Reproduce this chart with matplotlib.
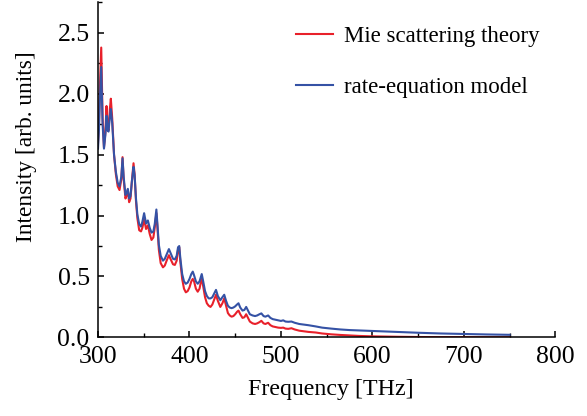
import numpy as np
import matplotlib
matplotlib.use("Agg")
import matplotlib.pyplot as plt
from matplotlib.ticker import MultipleLocator

plt.rcParams['font.family'] = ['Liberation Serif', 'DejaVu Serif']
plt.rcParams['mathtext.fontset'] = 'stix'

# Frequência (THz) e intensidades
freq = [300, 301, 302, 303.5, 305, 306.5, 308, 309.3, 310.5, 311.5, 313, 314, 315.5,
        317.5, 319.5, 321.5, 323.5, 325.5, 326.8, 328, 330, 331.5, 332.6, 334, 335.5,
        337, 338.8, 340, 341.5, 343, 345, 347, 348.5, 350.4, 352.5, 354.5, 356.5,
        358.5, 360.5, 362, 363.8, 365, 366.5, 368.5, 371, 373, 375, 377.5, 379.5,
        382, 384, 386, 387.5, 388.8, 390, 392, 394, 396, 398, 400, 402, 403.6, 405,
        407, 409, 411, 413.4, 415, 417, 419, 421, 423, 425, 427, 429, 431, 433.7,
        436, 438, 440, 442, 444, 446, 448, 450, 452, 453.6, 455.5, 458, 460, 462,
        464, 466, 469, 471.7, 474, 476.5, 478.6, 481, 483, 486, 488.5, 491, 494,
        497, 500, 502.5, 505, 508, 511.5, 515, 520, 525, 530, 538, 545, 555, 565,
        575, 585, 597, 610, 627, 650, 675, 700, 725, 750]

mie = [1.60, 1.75, 2.05, 2.38, 1.80, 1.56, 1.68, 1.90, 1.72, 1.70, 1.88, 1.96, 1.80,
       1.50, 1.34, 1.24, 1.21, 1.30, 1.48, 1.30, 1.14, 1.17, 1.21, 1.11, 1.14,
       1.28, 1.43, 1.34, 1.12, 0.98, 0.88, 0.87, 0.90, 0.97, 0.89, 0.92, 0.85,
       0.80, 0.82, 0.90, 1.02, 0.90, 0.72, 0.61, 0.575, 0.59, 0.63, 0.675, 0.64,
       0.60, 0.595, 0.63, 0.72, 0.74, 0.62, 0.48, 0.40, 0.37, 0.38, 0.41, 0.46, 0.48, 0.46,
       0.40, 0.375, 0.40, 0.49, 0.42, 0.33, 0.28, 0.26, 0.25, 0.27, 0.31, 0.35, 0.30, 0.25,
       0.28, 0.32, 0.26, 0.20, 0.18, 0.17, 0.175, 0.19, 0.21, 0.22, 0.19, 0.16, 0.165, 0.19,
       0.16, 0.13, 0.115, 0.11, 0.115, 0.125, 0.136, 0.115, 0.11, 0.12, 0.10, 0.09, 0.085,
       0.08, 0.078, 0.08, 0.072, 0.07, 0.075, 0.065, 0.055, 0.05, 0.045, 0.04, 0.032, 0.025, 0.02,
       0.016, 0.012, 0.009, 0.007, 0.005, 0.003, 0.002, 0.002, 0.001, 0.001]

rate_eq = [1.55, 1.70, 1.95, 2.22, 1.75, 1.55, 1.66, 1.82, 1.70, 1.69, 1.82, 1.875, 1.76,
           1.50, 1.36, 1.27, 1.24, 1.32, 1.47, 1.32, 1.17, 1.19, 1.22, 1.14, 1.16,
           1.28, 1.40, 1.33, 1.14, 1.01, 0.93, 0.91, 0.95, 1.02, 0.935, 0.96, 0.90,
           0.86, 0.87, 0.93, 1.05, 0.92, 0.76, 0.67, 0.63, 0.645, 0.68, 0.725, 0.69,
           0.645, 0.64, 0.67, 0.74, 0.75, 0.65, 0.52, 0.46, 0.44, 0.45, 0.48, 0.52, 0.54, 0.51,
           0.46, 0.44, 0.46, 0.52, 0.46, 0.38, 0.34, 0.32, 0.32, 0.33, 0.36, 0.39, 0.34, 0.305,
           0.33, 0.35, 0.30, 0.26, 0.245, 0.24, 0.245, 0.255, 0.27, 0.28, 0.245, 0.22, 0.225, 0.25,
           0.22, 0.19, 0.18, 0.175, 0.18, 0.19, 0.197, 0.175, 0.17, 0.18, 0.16, 0.15, 0.145,
           0.14, 0.135, 0.14, 0.13, 0.128, 0.13, 0.12, 0.11, 0.105, 0.10, 0.09, 0.08, 0.072, 0.065,
           0.06, 0.057, 0.054, 0.05, 0.045, 0.038, 0.032, 0.028, 0.024, 0.021]

fig = plt.figure(figsize=(5.87, 4.16), dpi=100)
ax = fig.add_axes([0.167, 0.189, 0.779, 0.805])

ax.plot(freq, mie, color='#e8202a', linewidth=1.5, label='Mie scattering theory')
ax.plot(freq, rate_eq, color='#3552a5', linewidth=1.5, label='rate-equation model')

ax.set_xlim(300, 800)
ax.set_ylim(0, 2.75)
ax.xaxis.set_major_locator(MultipleLocator(100))
ax.xaxis.set_minor_locator(MultipleLocator(50))
ax.yaxis.set_major_locator(MultipleLocator(0.5))
ax.yaxis.set_minor_locator(MultipleLocator(0.25))
ax.yaxis.set_major_formatter(matplotlib.ticker.FormatStrFormatter('%.1f'))

ax.spines['top'].set_visible(False)
ax.spines['right'].set_visible(False)
for s in ['left', 'bottom']:
    ax.spines[s].set_linewidth(1.1)
ax.tick_params(which='major', direction='in', length=4.5, width=1.1, labelsize=18.5, pad=6)
ax.tick_params(which='minor', direction='in', length=2.8, width=1.0)

ax.set_xlabel('Frequency [THz]', fontsize=17.2)
ax.xaxis.set_label_coords(0.51, -0.125)
ax.set_ylabel('Intensity [arb. units]', fontsize=16.8)
ax.yaxis.set_label_coords(-0.133, 0.569)

ax.legend(loc='upper left', bbox_to_anchor=(0.433, 0.93), frameon=False, fontsize=16.5,
          borderpad=0, borderaxespad=0, handlelength=1.6, handletextpad=0.5,
          labelspacing=1.3)

fig.savefig('out.png', dpi=100)
